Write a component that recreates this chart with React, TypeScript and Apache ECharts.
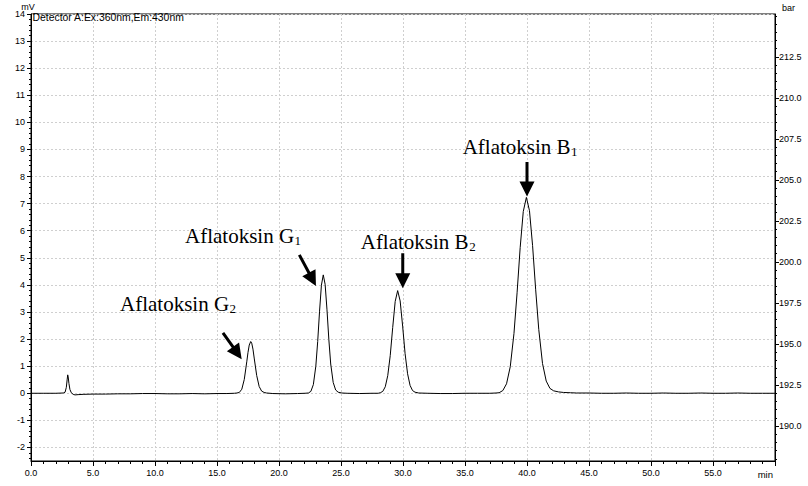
import React, { useEffect, useRef } from "react";
import * as echarts from "echarts";

// Chromatogram (retention time in min, signal in mV)
const segmentStart: [number, number][] = [
  [0, 0.0], [1, 0.0], [2, 0.0], [2.6, 0.01], [2.75, 0.04], [2.85, 0.22], [2.92, 0.52],
  [2.96, 0.68], [3.0, 0.6], [3.06, 0.36], [3.14, 0.14], [3.25, 0.02], [3.4, -0.04],
  [3.55, -0.06], [3.8, -0.05], [4.2, -0.04], [5, -0.03], [6, -0.03], [7, -0.02], [8, -0.02],
  [9, -0.01], [10, -0.01], [11, -0.02], [12, -0.02], [13, -0.01], [14, -0.02], [15, -0.01],
  [15.8, -0.01], [16.4, 0.0],
];
const peakG2: [number, number][] = [
  [16.6, 0.01], [16.8, 0.03], [17.0, 0.15], [17.2, 0.51], [17.4, 1.16], [17.5, 1.51],
  [17.6, 1.78], [17.72, 1.91], [17.8, 1.85], [17.9, 1.63], [18.0, 1.3], [18.2, 0.66],
  [18.4, 0.25], [18.6, 0.08], [18.8, 0.03], [19.0, 0.01], [19.5, -0.01], [20.5, -0.02],
  [21.5, -0.01], [22.1, 0.0],
];
const peakG1: [number, number][] = [
  [22.37, 0.01], [22.57, 0.07], [22.77, 0.32], [22.97, 1.0], [23.12, 1.91], [23.27, 3.03],
  [23.42, 3.99], [23.57, 4.37], [23.72, 4.02], [23.87, 3.08], [24.02, 1.98], [24.17, 1.08],
  [24.37, 0.4], [24.57, 0.12], [24.77, 0.04], [25.07, 0.01], [25.5, 0.0], [26.5, -0.01],
  [27.5, 0.0], [28.0, 0.0],
];
const peakB2: [number, number][] = [
  [28.17, 0.02], [28.37, 0.07], [28.57, 0.24], [28.77, 0.65], [28.97, 1.39], [29.17, 2.43],
  [29.37, 3.39], [29.57, 3.79], [29.77, 3.41], [29.97, 2.48], [30.17, 1.46], [30.37, 0.72],
  [30.57, 0.29], [30.77, 0.1], [30.97, 0.04], [31.27, 0.01], [32, 0.0], [33, -0.01],
  [34, -0.01], [35, 0.0], [36, 0.0], [37, 0.0], [37.5, 0.01],
];
const peakB1: [number, number][] = [
  [37.75, 0.02], [38.05, 0.1], [38.35, 0.35], [38.65, 0.98], [38.95, 2.21], [39.2, 3.71],
  [39.45, 5.38], [39.7, 6.71], [39.95, 7.23], [40.2, 6.74], [40.45, 5.45], [40.7, 3.82],
  [40.95, 2.35], [41.25, 1.1], [41.55, 0.45], [41.85, 0.18], [42.15, 0.09], [42.55, 0.05],
  [42.95, 0.03], [43.5, 0.02], [44.0, 0.01],
];
const segmentEnd: [number, number][] = [
  [45, 0.01], [46, 0.0], [47, 0.0], [48, 0.01], [49, 0.0], [50, 0.0], [51, 0.01], [52, 0.0],
  [53, 0.0], [54, 0.01], [55, 0.0], [56, 0.0], [57, 0.01], [58, 0.0], [59, 0.0], [60, 0.0],
];

// Axis ticks
const mvLabels = [-2, -1, 0, 1, 2, 3, 4, 5, 6, 7, 8, 9, 10, 11, 12, 13, 14];
const barLabels = [190, 192.5, 195, 197.5, 200, 202.5, 205, 207.5, 210, 212.5];
const barMinorStart = 188;
const barMinorEnd = 215;
const barMinorStep = 0.5;

// Annotations (data coordinates: time, mV)
const peakNames = ["Aflatoksin G", "Aflatoksin G", "Aflatoksin B", "Aflatoksin B"];
const peakSubs = ["2", "1", "2", "1"];
const labelAnchors: [number, number][] = [[7.18, 3.05], [12.42, 5.54], [26.59, 5.32], [34.81, 8.84]];
const arrowTails: [number, number][] = [[15.48, 2.23], [21.64, 5.11], [29.98, 5.17], [40.0, 8.54]];
const arrowTips: [number, number][] = [[16.99, 1.26], [22.98, 3.96], [29.98, 3.88], [40.0, 7.26]];

const SANS = "'Liberation Sans', Arial, sans-serif";
const SERIF = "'Liberation Serif', 'Times New Roman', serif";

export default function App() {
  const ref = useRef<HTMLDivElement>(null);

  useEffect(() => {
    if (!ref.current) return;
    const chart = echarts.init(ref.current, undefined, { renderer: "svg" });
    const data = [...segmentStart, ...peakG2, ...peakG1, ...peakB2, ...peakB1, ...segmentEnd];
    const barMinor: number[] = [];
    for (let v = barMinorStart; v <= barMinorEnd + 1e-9; v += barMinorStep) barMinor.push(Math.round(v * 10) / 10);

    const labelStyle = { color: "#000", fontSize: 9, fontFamily: SANS };
    const gridLine = { show: true, lineStyle: { color: "#cfcfcf", width: 1, type: [2, 2] as any } };

    chart.setOption({
      animation: false,
      backgroundColor: "#ffffff",
      grid: { left: 31, right: 33, top: 14, bottom: 25, show: true, borderColor: "#000", borderWidth: 1 },
      xAxis: {
        type: "value",
        min: 0,
        max: 60,
        interval: 5,
        axisLine: { show: true, onZero: false, lineStyle: { color: "#000", width: 1 } },
        axisTick: { show: true, length: 5, lineStyle: { color: "#000" } },
        minorTick: { show: true, splitNumber: 5, length: 3, lineStyle: { color: "#000" } },
        axisLabel: { ...labelStyle, margin: 7, formatter: (v: number) => (v >= 60 ? "" : v.toFixed(1)) },
        splitLine: gridLine,
      },
      yAxis: [
        {
          type: "value",
          position: "left",
          min: -2.5,
          max: 14,
          splitNumber: 16,
          axisLine: { show: true, onZero: false, lineStyle: { color: "#000", width: 1 } },
          axisTick: { show: true, length: 4, customValues: mvLabels, lineStyle: { color: "#000" } },
          minorTick: { show: false },
          axisLabel: { ...labelStyle, margin: 6, customValues: mvLabels, formatter: (v: number) => String(v) },
          splitLine: gridLine,
        },
        {
          type: "value",
          position: "left",
          min: -2.5,
          max: 14,
          splitNumber: 16,
          axisLine: { show: false },
          axisTick: { show: false },
          minorTick: { show: true, splitNumber: 5, length: 2, lineStyle: { color: "#000" } },
          axisLabel: { show: false },
          splitLine: { show: false },
        },
        {
          type: "value",
          position: "right",
          min: 187.865,
          max: 215.11,
          axisLine: { show: true, onZero: false, lineStyle: { color: "#000", width: 1 } },
          axisTick: { show: true, length: 4, customValues: barLabels, lineStyle: { color: "#000" } },
          axisLabel: { ...labelStyle, margin: 4, customValues: barLabels, formatter: (v: number) => v.toFixed(1) },
          splitLine: { show: false },
        },
        {
          type: "value",
          position: "right",
          min: 187.865,
          max: 215.11,
          axisLine: { show: false },
          axisTick: { show: true, length: 2, customValues: barMinor, lineStyle: { color: "#000" } },
          axisLabel: { show: false },
          splitLine: { show: false },
        },
      ],
      series: [
        {
          type: "line",
          xAxisIndex: 0,
          yAxisIndex: 0,
          data,
          showSymbol: false,
          symbol: "none",
          lineStyle: { color: "#000", width: 1 },
          clip: true,
        },
      ],
    });

    const px = (p: [number, number]) =>
      chart.convertToPixel({ xAxisIndex: 0, yAxisIndex: 0 }, p) as number[];

    const canvas = document.createElement("canvas");
    const ctx = canvas.getContext("2d")!;
    const mainSize = 21;
    const subSize = 13;
    ctx.font = `${mainSize}px 'Liberation Serif'`;

    const elements: any[] = [];
    peakNames.forEach((name, i) => {
      const [x, yBase] = px(labelAnchors[i]);
      const w = ctx.measureText(name).width;
      elements.push({
        type: "text",
        x,
        y: yBase - 0.34 * mainSize,
        style: {
          text: name,
          fontSize: mainSize,
          fontFamily: SERIF,
          fill: "#000",
          textAlign: "left",
          align: "left",
          textVerticalAlign: "middle",
          verticalAlign: "middle",
        },
      });
      elements.push({
        type: "text",
        x: x + w + 0.5,
        y: yBase + 2 - 0.34 * subSize,
        style: {
          text: peakSubs[i],
          fontSize: subSize,
          fontFamily: SERIF,
          fill: "#000",
          textAlign: "left",
          align: "left",
          textVerticalAlign: "middle",
          verticalAlign: "middle",
        },
      });

      const [tx, ty] = px(arrowTails[i]);
      const [hx, hy] = px(arrowTips[i]);
      const dx = hx - tx;
      const dy = hy - ty;
      const len = Math.sqrt(dx * dx + dy * dy);
      const ux = dx / len;
      const uy = dy / len;
      const nx = -uy;
      const ny = ux;
      const L = 15;
      const W = 7.5;
      const s = 1.5;
      const bx = hx - ux * L;
      const by = hy - uy * L;
      elements.push({
        type: "polygon",
        shape: {
          points: [
            [tx + nx * s, ty + ny * s],
            [bx + nx * s, by + ny * s],
            [bx + nx * W, by + ny * W],
            [hx, hy],
            [bx - nx * W, by - ny * W],
            [bx - nx * s, by - ny * s],
            [tx - nx * s, ty - ny * s],
          ],
        },
        style: { fill: "#000", stroke: "none" },
      });
    });

    elements.push(
      {
        type: "text",
        x: 28,
        y: 6.5,
        style: { text: "mV", fontSize: 9, fontFamily: SANS, fill: "#000", textAlign: "center", align: "center", textVerticalAlign: "middle", verticalAlign: "middle" },
      },
      {
        type: "text",
        x: 32.5,
        y: 17.5,
        style: { text: "Detector A:Ex:360nm,Em:430nm", fontSize: 10.4, fontFamily: SANS, fill: "#000", textAlign: "left", align: "left", textVerticalAlign: "middle", verticalAlign: "middle" },
      },
      {
        type: "text",
        x: 782,
        y: 8,
        style: { text: "bar", fontSize: 9, fontFamily: SANS, fill: "#000", textAlign: "left", align: "left", textVerticalAlign: "middle", verticalAlign: "middle" },
      },
      {
        type: "text",
        x: 773,
        y: 474,
        style: { text: "min", fontSize: 9.5, fontFamily: SANS, fill: "#000", textAlign: "right", align: "right", textVerticalAlign: "middle", verticalAlign: "middle" },
      }
    );

    chart.setOption({ graphic: { elements } });

    return () => {
      chart.dispose();
    };
  }, []);

  return (
    <div
      ref={ref}
      style={{ position: "fixed", left: 0, top: 0, width: 808, height: 486, background: "#fff" }}
    />
  );
}
